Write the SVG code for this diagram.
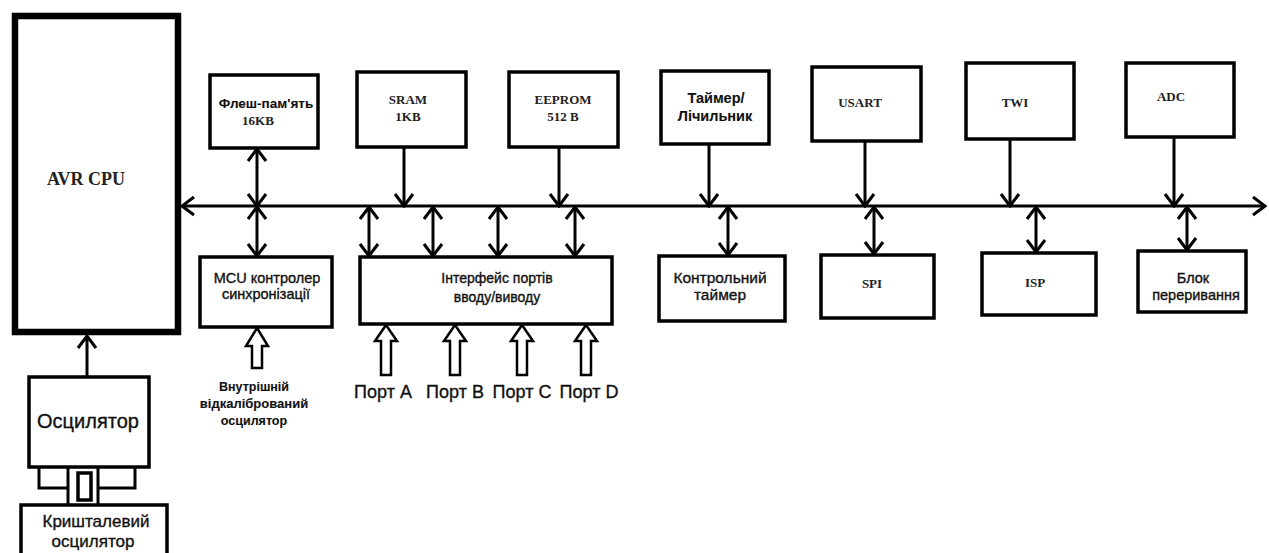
<svg xmlns="http://www.w3.org/2000/svg" width="1269" height="553" viewBox="0 0 1269 553">
<style>
.box{fill:#fff;stroke:#000;stroke-width:3.5}
.ln{fill:none;stroke:#000;stroke-width:3}
.ho{fill:#fff;stroke:#000;stroke-width:2.5;stroke-linejoin:miter}
.sf{font-family:"Liberation Serif",serif;font-weight:bold;text-anchor:middle;fill:#222}
.ss{font-family:"Liberation Sans",Arial,sans-serif;text-anchor:middle;fill:#111;stroke:#111;stroke-width:0.35}
.b{font-weight:bold;stroke-width:0.1}
</style>
<defs>
<marker id="ah" viewBox="-14 -11 16 22" markerWidth="16" markerHeight="22" markerUnits="userSpaceOnUse" refX="0" refY="0" orient="auto-start-reverse">
<path d="M-12,-9 L0,0 L-12,9" fill="none" stroke="#000" stroke-width="3"/>
</marker>
</defs>
<rect width="1269" height="553" fill="#fff"/>

<g id="connectors">
<line class="ln" x1="182" y1="206" x2="1265" y2="206" marker-start="url(#ah)" marker-end="url(#ah)"/>
<line class="ln" x1="87" y1="377" x2="87" y2="336" marker-end="url(#ah)"/>
<line class="ln" x1="257" y1="149" x2="257" y2="206" marker-start="url(#ah)" marker-end="url(#ah)"/>
<line class="ln" x1="257" y1="207" x2="257" y2="256" marker-start="url(#ah)" marker-end="url(#ah)"/>
<line class="ln" x1="404" y1="147" x2="404" y2="206" marker-end="url(#ah)"/>
<line class="ln" x1="559" y1="147" x2="559" y2="206" marker-end="url(#ah)"/>
<line class="ln" x1="709" y1="144" x2="709" y2="206" marker-end="url(#ah)"/>
<line class="ln" x1="865" y1="141" x2="865" y2="206" marker-end="url(#ah)"/>
<line class="ln" x1="1010" y1="139" x2="1010" y2="206" marker-end="url(#ah)"/>
<line class="ln" x1="1174" y1="137" x2="1174" y2="206" marker-end="url(#ah)"/>
<line class="ln" x1="369" y1="207" x2="369" y2="256" marker-start="url(#ah)" marker-end="url(#ah)"/>
<line class="ln" x1="433" y1="207" x2="433" y2="256" marker-start="url(#ah)" marker-end="url(#ah)"/>
<line class="ln" x1="498" y1="207" x2="498" y2="256" marker-start="url(#ah)" marker-end="url(#ah)"/>
<line class="ln" x1="575" y1="207" x2="575" y2="256" marker-start="url(#ah)" marker-end="url(#ah)"/>
<line class="ln" x1="728" y1="207" x2="728" y2="255" marker-start="url(#ah)" marker-end="url(#ah)"/>
<line class="ln" x1="874" y1="207" x2="874" y2="254" marker-start="url(#ah)" marker-end="url(#ah)"/>
<line class="ln" x1="1036" y1="207" x2="1036" y2="252" marker-start="url(#ah)" marker-end="url(#ah)"/>
<line class="ln" x1="1187" y1="207" x2="1187" y2="250" marker-start="url(#ah)" marker-end="url(#ah)"/>
<polygon class="ho" points="257,328 268,346 262,346 262,368 252,368 252,346 246,346"/>
<polygon class="ho" points="386,325 397,341 391,341 391,375 381,375 381,341 375,341"/>
<polygon class="ho" points="455,325 466,341 460,341 460,375 450,375 450,341 444,341"/>
<polygon class="ho" points="522,325 533,341 527,341 527,375 517,375 517,341 511,341"/>
<polygon class="ho" points="586,325 597,341 591,341 591,375 581,375 581,341 575,341"/>
</g>

<g id="avr-cpu">
<rect x="15" y="16" width="163" height="316" fill="#fff" stroke="#000" stroke-width="6.5"/>
<text class="sf" x="86" y="185" font-size="18">AVR CPU</text>
</g>

<g id="flash">
<rect class="box" x="210" y="75" width="108" height="73"/>
<text class="ss b" x="266" y="108" font-size="13.5">Флеш-пам'ять</text>
<text class="sf" x="258" y="125" font-size="13">16KB</text>
</g>

<g id="sram">
<rect class="box" x="357" y="72" width="109" height="75"/>
<text class="sf" x="408" y="104" font-size="13">SRAM</text>
<text class="sf" x="408" y="121" font-size="13">1KB</text>
</g>

<g id="eeprom">
<rect class="box" x="509" y="72" width="109" height="75"/>
<text class="sf" x="563" y="104" font-size="13">EEPROM</text>
<text class="sf" x="563" y="121" font-size="13">512 B</text>
</g>

<g id="timer">
<rect class="box" x="661" y="71" width="108" height="73"/>
<text class="ss b" x="716" y="103" font-size="14.5">Таймер/</text>
<text class="ss b" x="715" y="121" font-size="14.5">Лічильник</text>
</g>

<g id="usart">
<rect class="box" x="812" y="67" width="109" height="74"/>
<text class="sf" x="860" y="107" font-size="13">USART</text>
</g>

<g id="twi">
<rect class="box" x="966" y="63" width="108" height="76"/>
<text class="sf" x="1015" y="107" font-size="13">TWI</text>
</g>

<g id="adc">
<rect class="box" x="1126" y="63" width="108" height="74"/>
<text class="sf" x="1171" y="101" font-size="13">ADC</text>
</g>

<g id="mcu">
<rect class="box" x="200" y="257" width="132" height="70"/>
<text class="ss" x="267" y="283" font-size="14.5">MCU контролер</text>
<text class="ss" x="266" y="299" font-size="14.5">синхронізації</text>
</g>

<g id="io-interface">
<rect class="box" x="360" y="257" width="252" height="67"/>
<text class="ss" x="497" y="283" font-size="14">Інтерфейс портів</text>
<text class="ss" x="497" y="302" font-size="14">вводу/виводу</text>
</g>

<g id="watchdog">
<rect class="box" x="659" y="256" width="126" height="65"/>
<text class="ss" x="720" y="283" font-size="15.5">Контрольний</text>
<text class="ss" x="720" y="300" font-size="15.5">таймер</text>
</g>

<g id="spi">
<rect class="box" x="821" y="255" width="113" height="63"/>
<text class="sf" x="872" y="288" font-size="13">SPI</text>
</g>

<g id="isp">
<rect class="box" x="982" y="253" width="114" height="62"/>
<text class="sf" x="1035" y="287" font-size="13">ISP</text>
</g>

<g id="interrupt">
<rect class="box" x="1138" y="251" width="108" height="61"/>
<text class="ss" x="1193" y="283" font-size="14.5">Блок</text>
<text class="ss" x="1196" y="300" font-size="14.5">переривання</text>
</g>

<g id="internal-osc-label">
<text class="ss b" x="254" y="391" font-size="12.5">Внутрішній</text>
<text class="ss b" x="254" y="408" font-size="13">відкалібрований</text>
<text class="ss b" x="254" y="425" font-size="12.5">осцилятор</text>
</g>

<g id="port-labels">
<text class="ss" x="383" y="398" font-size="18">Порт A</text>
<text class="ss" x="455" y="398" font-size="18">Порт B</text>
<text class="ss" x="522" y="398" font-size="18">Порт C</text>
<text class="ss" x="589" y="398" font-size="18">Порт D</text>
</g>

<g id="oscillator">
<rect class="box" x="29" y="377" width="120" height="90"/>
<text class="ss" x="88" y="428" font-size="20">Осцилятор</text>
</g>

<g id="crystal-link">
<polyline class="ln" points="39,467 39,488 68,488"/>
<polyline class="ln" points="135,467 135,488 98,488"/>
<line class="ln" x1="68" y1="467" x2="68" y2="505"/>
<line class="ln" x1="98" y1="467" x2="98" y2="505"/>
<rect class="box" x="78" y="473" width="13" height="27" stroke-width="3"/>
</g>

<g id="crystal">
<rect class="box" x="21" y="505" width="146" height="60"/>
<text class="ss" x="96" y="527" font-size="17">Кришталевий</text>
<text class="ss" x="93" y="547" font-size="17">осцилятор</text>
</g>
</svg>
